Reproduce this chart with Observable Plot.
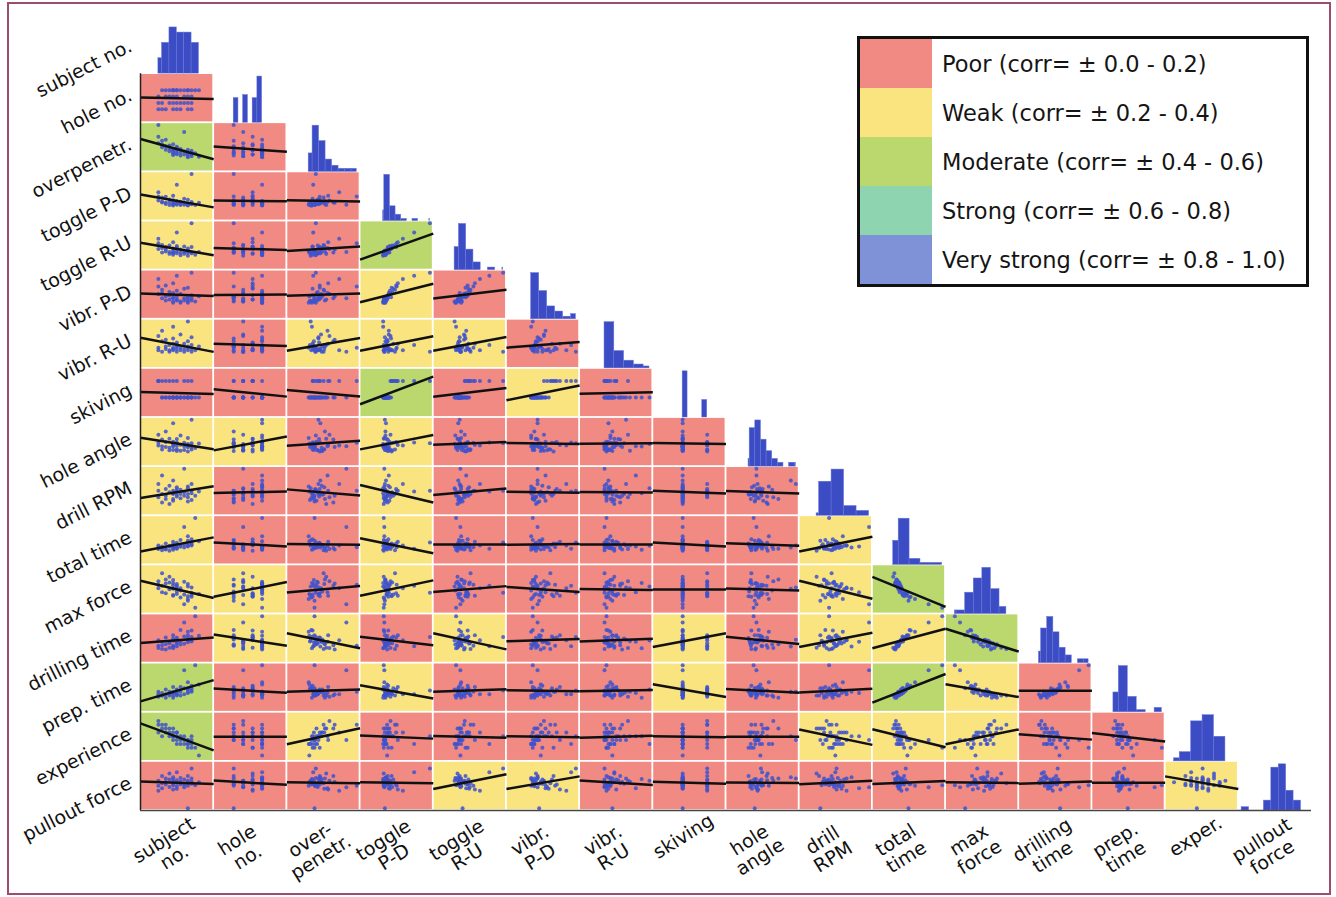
<!DOCTYPE html>
<html><head><meta charset="utf-8">
<script src="https://cdn.jsdelivr.net/npm/d3@7"></script>
<script src="https://cdn.jsdelivr.net/npm/@observablehq/plot@0.6"></script>
<style>
body{margin:0;background:#fff;font-family:"DejaVu Sans",sans-serif;}
#wrap{position:relative;width:1336px;height:897px;overflow:hidden;background:#fff;}
#frame{position:absolute;left:7px;top:2px;width:1320px;height:889px;border:2px solid #9c4d6e;pointer-events:none;}
#legend{position:absolute;left:857px;top:36px;width:446px;border:3px solid #111;background:#fff;}
.lrow{display:flex;align-items:center;height:49px;}
.sw{width:72px;height:100%;}
.lab{padding-left:10px;font-size:22.5px;color:#151515;white-space:nowrap;}
</style></head>
<body><div id="wrap"><div id="chart"></div><div id="legend"></div><div id="frame"></div></div>
<script>
const varNames = ["subject no.","hole no.","overpenetr.","toggle P-D","toggle R-U","vibr. P-D","vibr. R-U","skiving","hole angle","drill RPM","total time","max force","drilling time","prep. time","experience","pullout force"];
const colLabels = ["subject\nno.","hole\nno.","over-\npenetr.","toggle\nP-D","toggle\nR-U","vibr.\nP-D","vibr.\nR-U","skiving","hole\nangle","drill\nRPM","total\ntime","max\nforce","drilling\ntime","prep.\ntime","exper.","pullout\nforce"];

const subjectNo = [1,1,1,2,2,2,3,3,3,4,4,4,5,5,5,5,5,5,6,6,6,6,6,7,7,7,8,8,8,9,9,9,9,9,10,10,10,10,11,12];
const holeNo = [1,2,3,1,2,4,1,3,4,2,3,4,1,2,3,4,4,4,1,2,3,4,4,1,2,4,2,3,4,1,2,3,4,4,1,2,3,4,4,4];
const overpenetr = [7.8,3.6,5.1,4.2,2.7,3.3,2.9,2.1,4.4,1.8,3.1,2.4,1.9,1.2,3.4,2.2,1.6,0.9,2.5,1.4,2.0,2.8,1.1,0.8,2.3,1.5,6.2,1.0,1.7,1.3,0.7,2.1,1.2,0.4,1.5,0.6,1.0,1.9,1.3,0.5];
const togglePD = [3.2,2.1,4.3,1.6,2.9,1.8,1.2,3.1,1.5,2.4,0.9,1.7,2.2,1.1,3.4,1.3,1.9,0.8,1.6,1.0,1.4,2.0,6.3,0.9,1.8,1.2,1.0,2.6,1.3,1.1,0.8,2.3,1.2,1.0,9.1,1.4,1.7,1.1,0.9,1.5];
const toggleRU = [3.0,1.8,3.9,1.1,2.6,2.0,1.3,2.2,1.7,2.5,0.8,1.2,1.9,1.4,3.2,0.9,1.1,0.6,2.1,1.3,0.9,2.4,5.2,1.0,1.7,0.5,1.2,2.3,0.8,1.5,0.4,1.9,1.0,1.3,7.1,0.9,2.2,1.1,0.6,1.2];
const vibrPD = [2.5,1.8,3.2,1.4,2.2,1.9,1.2,2.6,1.6,2.0,1.3,1.7,1.5,1.1,2.8,1.4,1.9,1.0,1.6,1.2,1.3,2.1,3.5,1.1,1.8,1.0,1.4,2.3,1.2,1.5,1.1,2.4,1.3,1.0,3.8,1.2,1.7,1.4,1.1,1.6];
const vibrRU = [1.3,2.2,1.1,1.8,1.0,2.6,1.4,1.2,1.9,1.1,1.5,1.0,2.0,1.3,1.6,1.2,1.1,2.9,1.4,1.0,1.7,1.2,1.5,1.1,2.3,1.3,1.0,1.6,1.2,1.4,3.3,1.1,1.8,1.3,1.0,1.5,1.2,2.1,1.1,1.4];
const skiving = [1,1,1,0,1,0,0,1,0,1,0,0,0,0,1,0,0,0,0,0,0,0,1,0,0,0,0,1,0,0,0,1,0,0,1,0,0,0,0,0];
const holeAngle = [3.1,5.2,2.4,4.0,1.3,2.2,6.1,3.3,2.0,1.1,4.2,1.8,3.0,1.2,2.5,8.3,3.4,2.1,0.9,2.3,4.1,1.4,3.2,2.6,1.0,5.0,2.2,3.1,1.2,1.9,2.8,0.8,2.4,4.4,3.0,2.0,1.3,9.2,1.7,2.9];
const drillRPM = [520,480,560,450,500,610,470,530,490,510,440,550,500,470,520,580,460,505,495,530,485,540,515,475,500,525,650,490,510,455,535,500,480,545,520,465,505,560,490,515];
const totalTime = [40,35,45,38,32,42,36,50,34,41,30,44,48,37,55,39,43,33,46,38,52,40,36,60,45,41,95,47,39,58,44,50,42,70,53,48,62,45,120,56];
const maxForce = [98,104,92,96,118,85,107,83,100,102,112,90,80,106,79,91,97,101,86,94,82,99,96,76,92,88,64,81,103,70,95,78,99,73,84,80,77,93,58,82];
const drillingTime = [7.2,6.1,9.8,7.4,5.6,9.1,7.9,11.2,5.3,8.4,6.2,9.0,10.7,7.1,12.3,6.8,9.6,5.9,10.2,8.7,11.1,8.2,6.9,14.8,9.3,7.7,18.4,11.6,8.1,12.2,9.7,10.9,8.8,13.9,11.4,9.2,14.6,10.1,21.5,12.0];
const prepTime = [12,8,10,9,9,11,7,14,10,10,9,12,11,9,16,12,11,7,14,9,13,11,10,16,12,9,30,15,10,15,14,12,11,20,13,15,17,12,34,18];
const experience = [4.5,5,3.5,4,4.5,3,4,3.5,4.5,3,4,3.5,3,3.5,2.5,3,4,3,3.5,2.5,3,3.5,2,2.5,3,2,2.5,3,2,2.5,2,1.5,2.5,2,3,2,1.5,2.5,1.5,0.5];
const pulloutForce = [210,230,190,250,220,200,240,215,225,205,260,235,218,228,195,245,212,238,222,208,232,198,265,216,226,242,204,236,214,120,230,250,220,210,280,226,218,240,212,224];

// signed correlations (lower triangle, row i, columns 0..i-1)
const corrRows = [
 [],
 [-0.03],
 [-0.45,-0.12],
 [-0.33,-0.02,-0.03],
 [-0.30,-0.05,0.10,0.50],
 [-0.05,0.01,0.04,0.30,0.15],
 [-0.30,-0.05,0.25,0.25,0.25,0.12],
 [-0.04,-0.15,-0.12,0.45,0.15,0.30,0.03],
 [-0.25,0.30,0.10,0.25,0.05,-0.02,0.01,-0.02],
 [0.25,0.03,-0.12,-0.30,0.12,-0.02,-0.01,-0.06,-0.05],
 [0.35,-0.10,-0.02,-0.30,0.00,0.02,0.00,-0.10,-0.06,0.35],
 [-0.35,0.30,0.12,0.25,0.10,-0.10,-0.02,0.00,-0.04,-0.35,-0.50],
 [0.12,-0.25,-0.30,-0.15,-0.30,0.05,0.06,0.30,-0.15,0.30,0.35,-0.50],
 [0.50,-0.10,0.05,-0.25,0.05,-0.02,0.03,-0.30,-0.08,0.08,0.55,-0.30,0.00],
 [-0.55,0.00,0.30,-0.05,-0.03,-0.02,0.04,-0.02,0.00,-0.30,-0.30,0.30,-0.10,-0.15],
 [-0.06,-0.10,-0.02,-0.02,0.30,0.30,-0.10,-0.05,-0.01,0.08,0.06,-0.02,0.05,0.00,-0.30]
];

const classThresholds = [0.2,0.4,0.6,0.8];
const classLabels = ["Poor (corr= \u00b1 0.0 - 0.2)","Weak (corr= \u00b1 0.2 - 0.4)","Moderate (corr= \u00b1 0.4 - 0.6)","Strong (corr= \u00b1 0.6 - 0.8)","Very strong (corr= \u00b1 0.8 - 1.0)"];
const classColors = ["#f08a82","#f9e480","#bad86e","#8ed4b0","#7f92d8"];

const columns = [subjectNo,holeNo,overpenetr,togglePD,toggleRU,vibrPD,vibrRU,skiving,holeAngle,drillRPM,totalTime,maxForce,drillingTime,prepTime,experience,pulloutForce];
const K = columns.length;

// per-variable statistics and cell domains
const stats = columns.map(c => {
  const m = d3.mean(c), s = d3.deviation(c);
  const [mn, mx] = d3.extent(c);
  let lo = Math.min(mn, m - 3.0*s), hi = Math.max(mx, m + 3.0*s);
  const pad = 0.05*(hi - lo); lo -= pad; hi += pad;
  return {m, s, mn, mx, lo, hi};
});
const nrm = (v, k) => (v - stats[k].lo) / (stats[k].hi - stats[k].lo);

const cells = [], points = [], lines = [];
for (let i = 1; i < K; i++) {
  for (let j = 0; j < i; j++) {
    const r = corrRows[i][j];
    cells.push({i, j, r});
    columns[j].forEach((xv, n) => {
      points.push({x: j + nrm(xv, j), y: i + 1 - nrm(columns[i][n], i)});
    });
    const sj = stats[j], si = stats[i];
    const f = xv => si.m + r * si.s / sj.s * (xv - sj.m);
    lines.push({x1: j, y1: i + 1 - nrm(f(sj.lo), i), x2: j + 1, y2: i + 1 - nrm(f(sj.hi), i)});
  }
}
const bars = [];
columns.forEach((c, k) => {
  const bins = d3.bin().domain([stats[k].mn, stats[k].mx]).thresholds(6)(c);
  const top = d3.max(bins, b => b.length);
  bins.forEach(b => {
    if (b.length) bars.push({x1: k + nrm(b.x0, k), x2: k + nrm(b.x1, k), y1: k + 1, y2: k + 1 - 0.94 * b.length / top});
  });
});

const labelsIdx = d3.range(K);
const chart = Plot.plot({
  width: 1336, height: 897,
  marginLeft: 140, marginRight: 25, marginTop: 24, marginBottom: 87,
  x: {domain: [0, K], axis: null},
  y: {domain: [0, K], reverse: true, axis: null},
  color: {type: "threshold", domain: classThresholds, range: classColors},
  style: {fontFamily: "DejaVu Sans", background: "transparent"},
  marks: [
    Plot.rect(cells, {x1: "j", x2: d => d.j + 1, y1: "i", y2: d => d.i + 1, fill: d => Math.abs(d.r), inset: 0.9}),
    Plot.rect(bars, {x1: "x1", x2: "x2", y1: "y1", y2: "y2", fill: "#3b4cc4", stroke: "#6677d6", strokeWidth: 0.5}),
    Plot.dot(points, {x: "x", y: "y", r: 2, fill: "#3f52cc", fillOpacity: 0.85}),
    Plot.link(lines, {x1: "x1", y1: "y1", x2: "x2", y2: "y2", stroke: "#111", strokeWidth: 2.5}),
    Plot.ruleX([0], {y1: 1, y2: K, stroke: "#222", strokeWidth: 1.5}),
    Plot.ruleY([K], {x1: 0, x2: K, stroke: "#444", strokeWidth: 1.5}),
    Plot.text(labelsIdx, {x: 0, y: i => i + 0.5, text: i => varNames[i], textAnchor: "end", lineAnchor: "middle", rotate: -27, dx: -10, dy: -4, fontSize: 19, fill: "#111"}),
    Plot.text(labelsIdx.filter(i => !colLabels[i].includes("\n")), {x: i => i + 0.5, y: K, text: i => colLabels[i], textAnchor: "middle", lineAnchor: "middle", rotate: -32, dx: -6, dy: 26, fontSize: 19, fill: "#111"}),
    Plot.text(labelsIdx.filter(i => colLabels[i].includes("\n")), {x: i => i + 0.5, y: K, text: i => colLabels[i], textAnchor: "middle", lineAnchor: "middle", rotate: -32, dx: -8, dy: 38, fontSize: 19, fill: "#111", lineHeight: 1.05})
  ]
});
document.getElementById("chart").appendChild(chart);

const legend = document.getElementById("legend");
classLabels.forEach((lab, k) => {
  const row = document.createElement("div"); row.className = "lrow";
  const sw = document.createElement("div"); sw.className = "sw"; sw.style.background = classColors[k];
  const t = document.createElement("div"); t.className = "lab"; t.textContent = lab;
  row.appendChild(sw); row.appendChild(t); legend.appendChild(row);
});
</script>
</body></html>
